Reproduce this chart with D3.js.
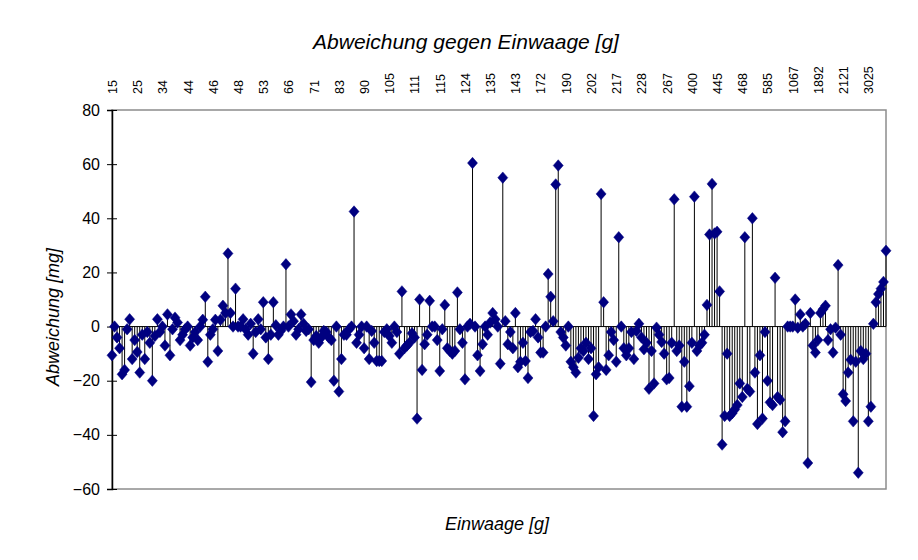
<!DOCTYPE html>
<html>
<head>
<meta charset="utf-8">
<script src="https://cdn.jsdelivr.net/npm/d3@7"></script>
<style>
  body { margin: 0; background: #fff; }
  svg { display: block; font-family: "Liberation Sans", Arial, sans-serif; }
</style>
</head>
<body>
<svg id="chart" width="918" height="560"></svg>
<script>
// category labels shown on the top axis (every 10th weighing)
var einwaageLabels = ["15", "25", "34", "44", "46", "48", "53", "66", "71", "83", "90",
    "105", "111", "115", "124", "135", "143", "172", "190", "202", "217", "228", "267",
    "400", "445", "468", "585", "1067", "1892", "2121", "3025"];
var labelEvery = 10;

var yTicks = [-60, -40, -20, 0, 20, 40, 60, 80];

// deviation per weighing [mg]
var deviation = [
    -10.6, 0, -4, -8, -17.6, -16, -1, 2.7, -12, -5,
    -9.4, -17, -3, -12, -2, -6, -20, -3.5, 2.7, -2,
    0, -7, 4.5, -10.6, -1, 3.3, 1.5, -5, -3, -1,
    0, -7, -4, -2, -5, 0, 2.5, 11, -13, -3,
    -1, 2.5, -9, 2.5, 7.7, 5, 27, 5, 0, 14,
    0, 0, 2.7, -1, -3, 1, -10, -2, 2.7, -1,
    9, -4, -12, -3, 9, 0.5, -3, -1.5, 0, 23,
    0, 4.5, 2, -3, -1, 4.5, 1, -1.6, -1, -20.5,
    -5, -3.5, -6, -4, -1.6, -2, -4, -5, -20, 0,
    -24, -12, -3, -3, -1, 0, 42.5, -6, -3, 0,
    -8, 0, -12, -1.6, -6, -12.7, -12.7, -12.7, -2, -1,
    -3.5, -6, 0, -2, -10, 13, -8, -7, -6, -2.5,
    -4, -34, 10, -16, -6.5, -3, 9.5, 0, 0, -5,
    -16.4, -1, 8, -8, -9, -10, -9, 12.6, -1, -6,
    -19.5, 0, 1, 60.4, 0, -10.6, -16.4, -6.5, 0, -3,
    1.5, 5, 2.7, 0, -13.7, 55, 2, -6.5, -2, -8,
    5, -15, -13, -6, -12.7, -19, -2, -1.6, 2.7, -4,
    -9.6, -9.6, 0, 19.4, 11, 2, 52.5, 59.5, -2, -4,
    -7, 0, -13, -15, -17, -11.5, -8, -9, -6, -12,
    -8, -33, -17.6, -15, 49, 9, -16, -10.6, -2, -5,
    -13, 33, 0, -8, -10.6, -8, -2, -12, -1.6, 1,
    -4, -8.4, -6, -23, -9, -21, -0.4, -3, -5.7, -10,
    -19.5, -19, -6, 47, -9, -7, -29.6, -13, -29.6, -22,
    -6, 48, -9, -7, -6, -3, 8, 34, 52.7, 34.4,
    35, 13, -43.6, -33, -10, -33, -32, -30.6, -29, -21,
    -26, 33, -23, -24, 40, -17, -36, -10.6, -34, -2,
    -20, -28, -29, 18, -26, -27, -39, -35, 0, 0,
    0, 10, -0.4, 4.5, 0, 1, -50.4, 5, -7, -9.6,
    -5, 5, 6.4, 7.7, -5, -1, -9.6, -0.4, 22.7, -3,
    -25, -27.5, -17, -12.3, -35, -13, -54, -9, -12, -10,
    -35, -29.6, 1, 9, 12, 14, 16.5, 28
];

var margin = {top: 110, right: 32, bottom: 71, left: 112},
    width = 918 - margin.left - margin.right,
    height = 560 - margin.top - margin.bottom;

var navy = "#000080";

var svg = d3.select("#chart");
var g = svg.append("g")
    .attr("transform", "translate(" + margin.left + "," + margin.top + ")");

var x = d3.scalePoint()
    .domain(d3.range(deviation.length))
    .range([0, width]);

var y = d3.scaleLinear()
    .domain([-60, 80])
    .range([height, 0]);

// plot area frame (grey), left side gets the black value axis
g.append("rect")
    .attr("x", 0).attr("y", 0)
    .attr("width", width).attr("height", height)
    .attr("fill", "none")
    .attr("stroke", "#8c8c8c")
    .attr("stroke-width", 1.5);

// value axis
var yAxis = g.append("g")
    .call(d3.axisLeft(y).tickValues(yTicks).tickSize(5).tickPadding(7));
yAxis.select(".domain").attr("stroke", "#000").attr("stroke-width", 1.5);
yAxis.selectAll(".tick line").attr("x1", -5).attr("x2", 5).attr("stroke", "#000");
yAxis.selectAll(".tick text")
    .style("font-size", "16px")
    .attr("fill", "#000");

// category labels sit on top, rotated
var xAxis = g.append("g")
    .attr("transform", "translate(0,-16)")
    .call(d3.axisTop(x)
        .tickValues(d3.range(0, deviation.length, labelEvery))
        .tickFormat(function(d) { return einwaageLabels[d / labelEvery]; })
        .tickSize(0));
xAxis.select(".domain").remove();
xAxis.selectAll(".tick text")
    .attr("transform", "rotate(-90)")
    .attr("x", 0).attr("y", 0)
    .attr("dy", "0.35em")
    .style("text-anchor", "start")
    .style("font-size", "12.5px")
    .attr("fill", "#000");

// drop lines from zero
g.append("g")
    .selectAll("line")
    .data(deviation)
    .enter().append("line")
    .attr("x1", function(d, i) { return x(i); })
    .attr("x2", function(d, i) { return x(i); })
    .attr("y1", y(0))
    .attr("y2", function(d) { return y(d); })
    .attr("stroke", "#000")
    .attr("stroke-width", 1);

// category axis line at zero
g.append("line")
    .attr("x1", 0).attr("x2", width)
    .attr("y1", y(0)).attr("y2", y(0))
    .attr("stroke", "#000")
    .attr("stroke-width", 1);

// excel style diamond, a bit taller than wide
var excelDiamond = {
    draw: function(context, size) {
        var w = Math.sqrt(size) / 2, h = w * 1.15;
        context.moveTo(0, -h);
        context.lineTo(w, 0);
        context.lineTo(0, h);
        context.lineTo(-w, 0);
        context.closePath();
    }
};
var diamond = d3.symbol().type(excelDiamond).size(100);
g.append("g")
    .selectAll("path")
    .data(deviation)
    .enter().append("path")
    .attr("d", diamond)
    .attr("transform", function(d, i) { return "translate(" + x(i) + "," + y(d) + ")"; })
    .attr("fill", navy)
    .attr("stroke", navy)
    .attr("stroke-width", 0.5);

// titles
svg.append("text")
    .attr("x", 466).attr("y", 49)
    .attr("text-anchor", "middle")
    .style("font-size", "21px")
    .style("font-style", "italic")
    .text("Abweichung gegen Einwaage [g]");

svg.append("text")
    .attr("x", 497).attr("y", 530)
    .attr("text-anchor", "middle")
    .style("font-size", "18px")
    .style("font-style", "italic")
    .text("Einwaage [g]");

svg.append("text")
    .attr("transform", "translate(59,317) rotate(-90)")
    .attr("text-anchor", "middle")
    .style("font-size", "18px")
    .style("font-style", "italic")
    .text("Abweichung [mg]");
</script>
</body>
</html>
